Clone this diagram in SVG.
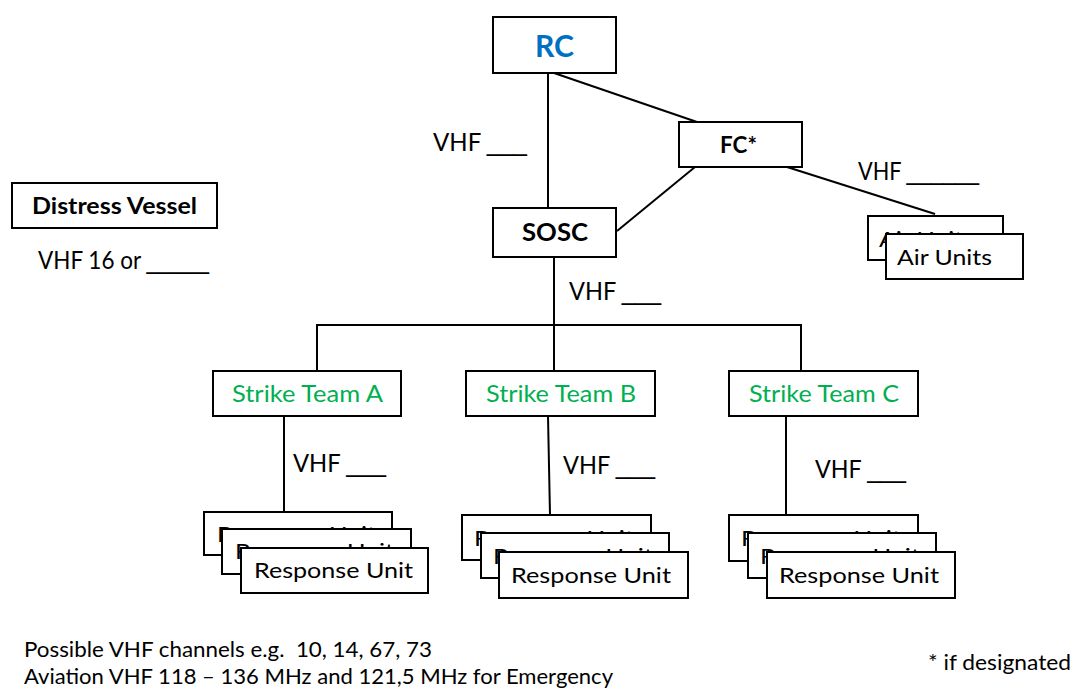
<svg xmlns="http://www.w3.org/2000/svg" width="1073" height="689" viewBox="0 0 1073 689">
<style>
text{font-family:Lato,"Open Sans","Liberation Sans",sans-serif;fill:#000}
.u{font-family:"Liberation Sans",Arial,sans-serif}
.box{fill:#fff;stroke:#000;stroke-width:2}
.ln{stroke:#000;stroke-width:2;fill:none}
.b{font-weight:bold}
.lbl{font-size:25px}
.ru{font-size:21.5px}
.st{font-size:23.5px;fill:#00B050}
.note{font-size:20.5px}
</style>
<rect width="1073" height="689" fill="#fff"/>
<g id="connectors">
<line class="ln" x1="548" y1="73" x2="548" y2="208"/>
<line class="ln" x1="554" y1="73" x2="697" y2="122"/>
<line class="ln" x1="695" y1="167" x2="617" y2="231"/>
<line class="ln" x1="787" y1="167" x2="935" y2="214"/>
<line class="ln" x1="554" y1="257" x2="554" y2="325"/>
<polyline class="ln" points="317,371 317,325 801,325 801,371"/>
<line class="ln" x1="554" y1="325" x2="554" y2="371"/>
<line class="ln" x1="284" y1="416" x2="284" y2="512"/>
<line class="ln" x1="548" y1="416" x2="550" y2="515"/>
<line class="ln" x1="786" y1="416" x2="786" y2="515"/>
</g>
<g id="labels">
<text class="lbl" x="433" y="151" textLength="94" lengthAdjust="spacingAndGlyphs">VHF <tspan class="u">___</tspan></text>
<text class="lbl" x="858" y="180" textLength="121" lengthAdjust="spacingAndGlyphs">VHF <tspan class="u">______</tspan></text>
<text class="lbl" x="569" y="300" textLength="92" lengthAdjust="spacingAndGlyphs">VHF <tspan class="u">___</tspan></text>
<text class="lbl" x="293" y="472" textLength="93" lengthAdjust="spacingAndGlyphs">VHF <tspan class="u">___</tspan></text>
<text class="lbl" x="563" y="474" textLength="92" lengthAdjust="spacingAndGlyphs">VHF <tspan class="u">___</tspan></text>
<text class="lbl" x="815" y="478" textLength="91" lengthAdjust="spacingAndGlyphs">VHF <tspan class="u">___</tspan></text>
<text class="lbl" x="38" y="269" textLength="171" lengthAdjust="spacingAndGlyphs">VHF 16 or <tspan class="u">_____</tspan></text>
<text class="note" x="24" y="657" textLength="408" lengthAdjust="spacingAndGlyphs">Possible VHF channels e.g.&#160; 10, 14, 67, 73</text>
<text class="note" x="24" y="684" textLength="589" lengthAdjust="spacingAndGlyphs">Aviation VHF 118 – 136 MHz and 121,5 MHz for Emergency</text>
<text class="note" x="928" y="670" textLength="143" lengthAdjust="spacingAndGlyphs">* if designated</text>
</g>
<g id="rc">
<rect class="box" x="493" y="17" width="123" height="56"/>
<text class="b" x="535" y="57" font-size="31" textLength="39" lengthAdjust="spacingAndGlyphs" style="fill:#0070C0">RC</text>
</g>
<g id="fc">
<rect class="box" x="679" y="122" width="123" height="45"/>
<text class="b" x="720" y="153" font-size="23.5" textLength="37" lengthAdjust="spacingAndGlyphs">FC*</text>
</g>
<g id="sosc">
<rect class="box" x="493" y="208" width="123" height="49"/>
<text class="b" x="522" y="241" font-size="25" textLength="66" lengthAdjust="spacingAndGlyphs">SOSC</text>
</g>
<g id="distress-vessel">
<rect class="box" x="12" y="183" width="205" height="45"/>
<text class="b" x="32" y="214" font-size="22.5" textLength="165" lengthAdjust="spacingAndGlyphs">Distress Vessel</text>
</g>
<g id="air-units">
<rect class="box" x="868" y="216" width="135" height="44"/>
<text class="ru" x="879" y="247" textLength="95" lengthAdjust="spacingAndGlyphs">Air Units</text>
<rect class="box" x="886" y="234" width="137" height="45"/>
<text class="ru" x="897" y="265" textLength="95" lengthAdjust="spacingAndGlyphs">Air Units</text>
</g>
<g id="strike-team-a">
<rect class="box" x="213" y="371" width="188" height="45"/>
<text class="st" x="232" y="402" textLength="151" lengthAdjust="spacingAndGlyphs">Strike Team A</text>
</g>
<g id="strike-team-b">
<rect class="box" x="466" y="371" width="189" height="45"/>
<text class="st" x="486" y="402" textLength="150" lengthAdjust="spacingAndGlyphs">Strike Team B</text>
</g>
<g id="strike-team-c">
<rect class="box" x="729" y="371" width="189" height="45"/>
<text class="st" x="749" y="402" textLength="150" lengthAdjust="spacingAndGlyphs">Strike Team C</text>
</g>
<g id="response-units-a">
<rect class="box" x="204" y="512" width="188" height="43"/>
<text class="ru" x="217" y="542" textLength="159" lengthAdjust="spacingAndGlyphs">Response Unit</text>
<rect class="box" x="222" y="529" width="189" height="45"/>
<text class="ru" x="235" y="559" textLength="159" lengthAdjust="spacingAndGlyphs">Response Unit</text>
<rect class="box" x="241" y="548" width="187" height="45"/>
<text class="ru" x="254" y="578" textLength="159" lengthAdjust="spacingAndGlyphs">Response Unit</text>
</g>
<g id="response-units-b">
<rect class="box" x="462" y="515" width="189" height="45"/>
<text class="ru" x="474" y="546" textLength="160" lengthAdjust="spacingAndGlyphs">Response Unit</text>
<rect class="box" x="481" y="533" width="188" height="45"/>
<text class="ru" x="493" y="564" textLength="160" lengthAdjust="spacingAndGlyphs">Response Unit</text>
<rect class="box" x="499" y="552" width="189" height="46"/>
<text class="ru" x="511" y="583" textLength="160" lengthAdjust="spacingAndGlyphs">Response Unit</text>
</g>
<g id="response-units-c">
<rect class="box" x="729" y="515" width="189" height="46"/>
<text class="ru" x="741" y="546" textLength="160" lengthAdjust="spacingAndGlyphs">Response Unit</text>
<rect class="box" x="748" y="533" width="188" height="45"/>
<text class="ru" x="760" y="564" textLength="160" lengthAdjust="spacingAndGlyphs">Response Unit</text>
<rect class="box" x="767" y="552" width="188" height="46"/>
<text class="ru" x="779" y="583" textLength="160" lengthAdjust="spacingAndGlyphs">Response Unit</text>
</g>
</svg>
